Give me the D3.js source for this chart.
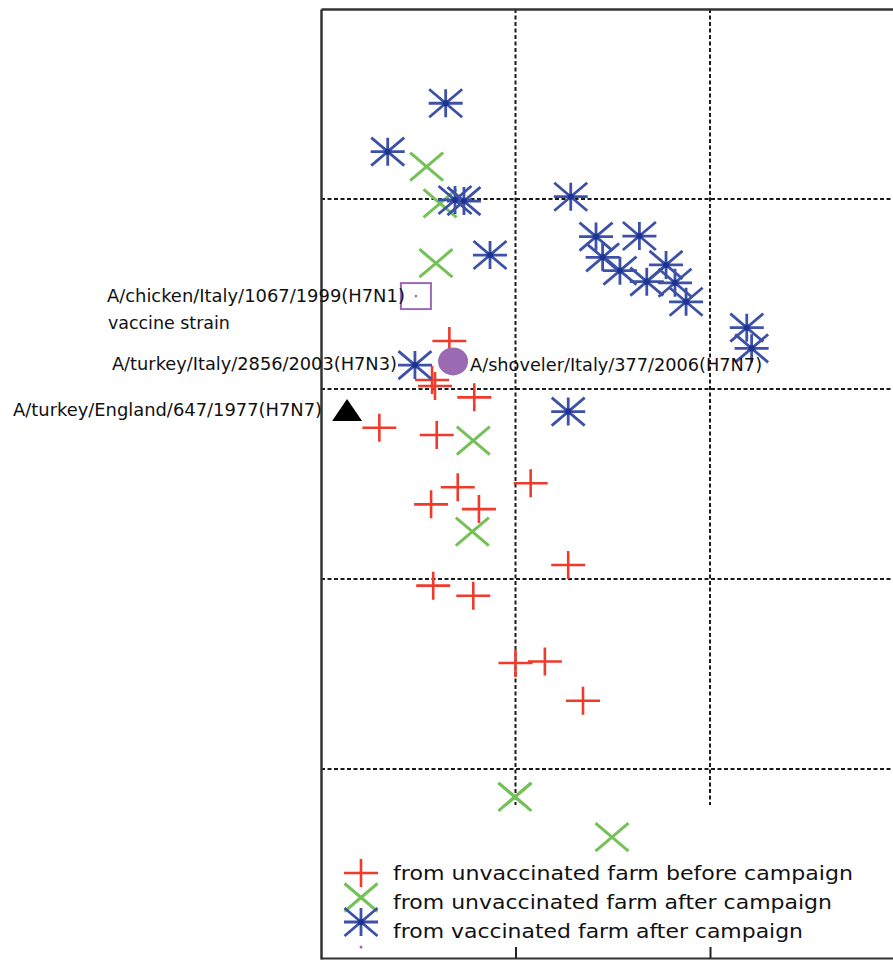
<!DOCTYPE html>
<html>
<head>
<meta charset="utf-8">
<script src="https://cdn.jsdelivr.net/npm/d3@7/dist/d3.min.js"></script>
<style>
  body { margin: 0; background: #fff; }
  svg { display: block; }
</style>
</head>
<body>
<div id="chart"></div>
<script>
"use strict";

// map coordinates in antigenic units
var unvaccBefore = [
  [0.660, 3.253], [0.571, 3.047], [0.586, 3.016], [0.788, 2.956], [0.300, 2.796],
  [0.595, 2.758], [0.703, 2.483], [1.078, 2.504], [0.566, 2.393], [0.812, 2.368],
  [1.271, 2.074], [0.577, 1.965], [0.783, 1.912], [1.000, 1.558], [1.151, 1.566],
  [1.347, 1.359]
];
var unvaccAfter = [
  [0.543, 4.170], [0.612, 3.977], [0.591, 3.662], [0.783, 2.728], [0.778, 2.249],
  [0.997, 0.853], [1.496, 0.642]
];
var vaccAfter = [
  [0.641, 4.504], [0.343, 4.249], [0.689, 3.995], [0.735, 3.989], [0.869, 3.705],
  [1.284, 4.012], [1.414, 3.802], [1.637, 3.805], [1.448, 3.693], [1.537, 3.623],
  [1.675, 3.565], [1.774, 3.653], [1.820, 3.559], [1.877, 3.459], [2.189, 3.323],
  [2.214, 3.214], [0.483, 3.126], [1.271, 2.881]
];
var vaccineStrain = [0.488, 3.489];   // A/chicken/Italy/1067/1999(H7N1)
var shoveler = [0.679, 3.145];        // A/shoveler/Italy/377/2006(H7N7)
var england = [0.134, 2.889];         // A/turkey/England/647/1977(H7N7)
var turkeyItaly = [0.483, 3.126];     // A/turkey/Italy/2856/2003(H7N3)

var xGrid = [1, 2];
var yGrid = [1, 2, 3, 4];

var legendLabels = [
  "from unvaccinated farm before campaign",
  "from unvaccinated farm after campaign",
  "from vaccinated farm after campaign"
];

function init() {
  draw();
}
window.onload = init;

function draw() {
  var width = 893, height = 960;

  var svg = d3.select("#chart")
    .append("svg")
    .attr("width", width)
    .attr("height", height);

  var x = d3.scaleLinear().domain([0, 3]).range([321, 904.5]);
  var y = d3.scaleLinear().domain([0, 5]).range([959, 9]);

  var red = "#ef3b2c", green = "#74c157", blue = "#3c51a7", purple = "#9a6ab3";

  // dashed grid
  var grid = svg.append("g")
    .attr("stroke", "#1a1a1a")
    .attr("stroke-width", 2)
    .attr("stroke-dasharray", "4,2.5");
  grid.selectAll(".vg")
    .data(xGrid)
    .join("line")
    .attr("x1", d => x(d)).attr("x2", d => x(d))
    .attr("y1", y(5)).attr("y2", 805);
  grid.selectAll(".hg")
    .data(yGrid)
    .join("line")
    .attr("x1", x(0)).attr("x2", width)
    .attr("y1", d => y(d)).attr("y2", d => y(d));

  // frame: left and top lines, bottom axis with inward ticks
  svg.append("g")
    .attr("transform", `translate(${x(0)},0)`)
    .call(d3.axisLeft(y).tickValues([]).tickSizeOuter(0))
    .select(".domain").attr("stroke", "#333").attr("stroke-width", 2.5);
  svg.append("g")
    .attr("transform", `translate(0,${y(5)})`)
    .call(d3.axisTop(x).tickValues([]).tickSizeOuter(0))
    .select(".domain").attr("stroke", "#333").attr("stroke-width", 2.5);
  var bottom = svg.append("g")
    .attr("transform", `translate(0,${y(0) - 1})`)
    .call(d3.axisBottom(x).tickValues(xGrid).tickSize(-11).tickSizeOuter(0).tickFormat(""));
  bottom.select(".domain").attr("stroke", "#333").attr("stroke-width", 2);
  bottom.selectAll(".tick line").attr("stroke", "#222").attr("stroke-width", 2);

  // marker shapes
  function plusPath(cx, cy) {
    return `M${cx - 17},${cy}H${cx + 17}M${cx},${cy - 14}V${cy + 14}`;
  }
  function crossPath(cx, cy) {
    return `M${cx - 16.5},${cy - 14}L${cx + 16.5},${cy + 14}M${cx - 16.5},${cy + 14}L${cx + 16.5},${cy - 14}`;
  }
  function starPath(cx, cy) {
    return plusPath(cx, cy) + crossPath(cx, cy);
  }

  svg.append("g")
    .selectAll("path")
    .data(unvaccAfter)
    .join("path")
    .attr("d", d => crossPath(x(d[0]), y(d[1])))
    .attr("fill", "none").attr("stroke", green).attr("stroke-width", 3);

  svg.append("g")
    .selectAll("path")
    .data(unvaccBefore)
    .join("path")
    .attr("d", d => plusPath(x(d[0]), y(d[1])))
    .attr("fill", "none").attr("stroke", red).attr("stroke-width", 2.6);

  var stars = svg.append("g");
  stars.selectAll("path")
    .data(vaccAfter)
    .join("path")
    .attr("d", d => starPath(x(d[0]), y(d[1])))
    .attr("fill", "none").attr("stroke", blue).attr("stroke-width", 2.8);
  stars.selectAll("circle")
    .data(vaccAfter)
    .join("circle")
    .attr("cx", d => x(d[0])).attr("cy", d => y(d[1]))
    .attr("r", 3).attr("fill", "#1d3391");

  // reference strains
  svg.append("rect")
    .attr("x", x(vaccineStrain[0]) - 15).attr("y", y(vaccineStrain[1]) - 13)
    .attr("width", 30).attr("height", 26)
    .attr("fill", "none").attr("stroke", purple).attr("stroke-width", 2);
  svg.append("circle")
    .attr("cx", x(vaccineStrain[0])).attr("cy", y(vaccineStrain[1]))
    .attr("r", 1.3).attr("fill", purple);
  svg.append("ellipse")
    .attr("cx", x(shoveler[0])).attr("cy", y(shoveler[1]))
    .attr("rx", 15).attr("ry", 14)
    .attr("fill", purple);
  var tx = x(england[0]), ty = y(england[1]);
  svg.append("path")
    .attr("d", `M${tx},${ty - 11}L${tx + 15},${ty + 11}L${tx - 15},${ty + 11}Z`)
    .attr("fill", "#000");

  // strain labels
  var labelFont = "'DejaVu Sans Condensed', 'Liberation Sans Narrow', sans-serif";
  var labels = [
    {text: "A/chicken/Italy/1067/1999(H7N1)", p: vaccineStrain, dx: -11, dy: 6, anchor: "end", len: 298},
    {text: "vaccine strain", p: vaccineStrain, dx: -308, dy: 33, anchor: "start", len: 122},
    {text: "A/turkey/Italy/2856/2003(H7N3)", p: turkeyItaly, dx: -18, dy: 5, anchor: "end", len: 285},
    {text: "A/turkey/England/647/1977(H7N7)", p: england, dx: -25, dy: 6, anchor: "end", len: 309},
    {text: "A/shoveler/Italy/377/2006(H7N7)", p: shoveler, dx: 17, dy: 10, anchor: "start", len: 292}
  ];
  svg.append("g")
    .selectAll("text")
    .data(labels)
    .join("text")
    .attr("x", d => x(d.p[0]) + d.dx)
    .attr("y", d => y(d.p[1]) + d.dy)
    .attr("text-anchor", d => d.anchor)
    .attr("textLength", d => d.len)
    .attr("lengthAdjust", "spacingAndGlyphs")
    .attr("font-family", labelFont)
    .attr("font-size", 17)
    .attr("fill", "#111")
    .text(d => d.text);

  // legend
  var legend = svg.append("g");
  legend.append("rect")
    .attr("x", x(0) + 2).attr("y", 806)
    .attr("width", width).attr("height", 140)
    .attr("fill", "#fff");
  // redraw the bottom green crosses that sit on the legend box
  legend.selectAll(".lx")
    .data(unvaccAfter.filter(d => y(d[1]) > 790))
    .join("path")
    .attr("d", d => crossPath(x(d[0]), y(d[1])))
    .attr("fill", "none").attr("stroke", green).attr("stroke-width", 3);

  var lx = 361;
  legend.append("path").attr("d", plusPath(lx, 873))
    .attr("fill", "none").attr("stroke", red).attr("stroke-width", 2.6);
  legend.append("path").attr("d", crossPath(lx, 897.5))
    .attr("fill", "none").attr("stroke", green).attr("stroke-width", 3);
  legend.append("path").attr("d", starPath(lx, 922))
    .attr("fill", "none").attr("stroke", blue).attr("stroke-width", 2.8);
  legend.append("circle").attr("cx", lx).attr("cy", 922).attr("r", 3).attr("fill", "#1d3391");
  legend.append("circle").attr("cx", lx).attr("cy", 947).attr("r", 1.5).attr("fill", purple);

  var legendLen = [460, 439, 410];
  legend.selectAll("text")
    .data(legendLabels)
    .join("text")
    .attr("x", 393)
    .attr("y", (d, i) => 880 + 29 * i)
    .attr("textLength", (d, i) => legendLen[i])
    .attr("lengthAdjust", "spacingAndGlyphs")
    .attr("font-family", "'DejaVu Sans', sans-serif")
    .attr("font-size", 19)
    .attr("fill", "#111")
    .text(d => d);
}
</script>
</body>
</html>
